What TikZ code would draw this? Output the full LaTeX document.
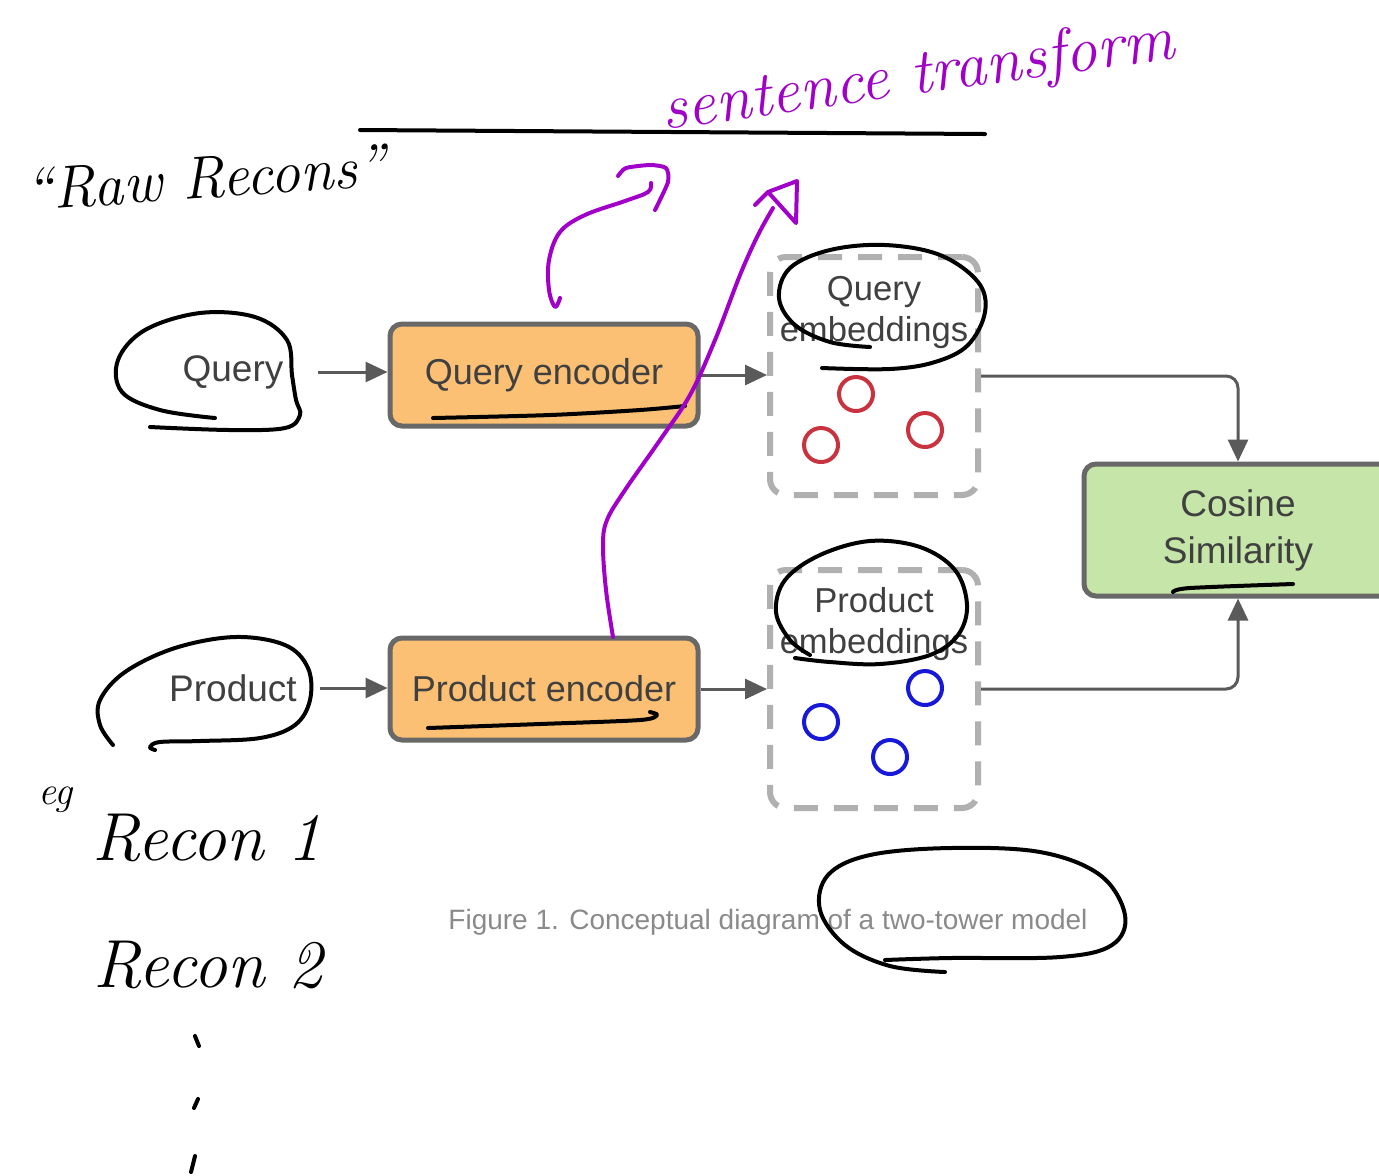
\documentclass[tikz,border=0pt]{standalone}
\usepackage{fontspec}
\newfontfamily\diagfont{Liberation Sans}
\usetikzlibrary{arrows.meta}
\definecolor{encfill}{HTML}{FCC074}
\definecolor{simfill}{HTML}{C6E5A8}
\definecolor{boxline}{HTML}{686868}
\definecolor{txtgray}{HTML}{404040}
\definecolor{dashgray}{HTML}{B0B0B0}
\definecolor{arrowgray}{HTML}{5A5A5A}
\definecolor{capgray}{HTML}{8A8A8A}
\definecolor{embred}{HTML}{C8333F}
\definecolor{embblue}{HTML}{1818D8}
\definecolor{penpurple}{HTML}{A000C8}
\begin{document}
\begin{tikzpicture}[x=0.5pt,y=-0.5pt,
  boxnode/.style={draw=boxline, line width=2.5pt, rounded corners=6pt,
    minimum width=154pt, minimum height=51pt, text=txtgray,
    font=\diagfont\fontsize{18}{22}\selectfont},
  embbox/.style={draw=dashgray, line width=3pt, dash pattern=on 12pt off 8pt,
    rounded corners=8pt, minimum width=104pt, minimum height=119pt},
  label/.style={text=txtgray, font=\diagfont\fontsize{18.5}{22}\selectfont},
  emblabel/.style={text=txtgray, align=center,
    font=\diagfont\fontsize{17.3}{20.5}\selectfont},
  flow/.style={draw=arrowgray, line width=1.5pt,
    -{Triangle[length=11pt,width=10pt]}},
  dot/.style={line width=2pt, minimum size=17pt, circle, draw, inner sep=0pt},
  ink/.style={line width=2pt, line cap=round, line join=round},
  pen/.style={ink, draw=penpurple},
  hand/.style={font=\itshape\fontsize{30}{34}\selectfont}]
\clip (0,0) rectangle (1379,1175);
\fill[white] (0,0) rectangle (1379,1175);

% ---------- two-tower diagram ----------
\node[label] (qtext) at (233,372) {Query};
\node[label] (ptext) at (233,688) {Product};
\node[boxnode, fill=encfill] (qenc) at (544,375) {Query encoder};
\node[boxnode, fill=encfill] (penc) at (544,689) {Product encoder};
\node[embbox] (qemb) at (874,376) {};
\node[embbox] (pemb) at (874,689) {};
\node[emblabel] (qembt) at (874,312) {Query\\embeddings};
\node[emblabel] (pembt) at (874,624) {Product\\embeddings};
\node[boxnode, fill=simfill, align=center, font=\diagfont\fontsize{18.5}{23.5}\selectfont]
  (cos) at (1238,530) [minimum height=66pt] {Cosine\\Similarity};

% embedding points
\node[dot, draw=embred] (q1) at (856,394) {};
\node[dot, draw=embred] (q2) at (821,445) {};
\node[dot, draw=embred] (q3) at (925,430) {};
\node[dot, draw=embblue] (p1) at (925,688) {};
\node[dot, draw=embblue] (p2) at (821,722) {};
\node[dot, draw=embblue] (p3) at (890,757) {};

% connectors
\draw[flow] ([xshift=14pt]qtext.east) -- (qtext.east -| qenc.west);
\draw[flow] ([xshift=8pt]ptext.east) -- (ptext.east -| penc.west);
\draw[flow] (qenc.east) -- (qenc.east -| qemb.west);
\draw[flow] (penc.east) -- (penc.east -| pemb.west);
\draw[flow, rounded corners=6pt] (qemb.east) -| (cos.north);
\draw[flow, rounded corners=6pt] (pemb.east) -| (cos.south);

\node[text=capgray, font=\diagfont\fontsize{14}{16}\selectfont] (cap) at (768,922)
  {Figure 1. Conceptual diagram of a two-tower model};

% ---------- pen annotations ----------
\draw[ink] (360,130) -- (985,134);
\node[hand, rotate=4] (raw) at (205,178) {“Raw Recons”};
\node[hand, font=\itshape\fontsize{20}{24}\selectfont] (eg) at (55,800) {eg};
\node[hand, font=\itshape\fontsize{34}{38}\selectfont] (r1) at (207,838) {Recon 1};
\node[hand, font=\itshape\fontsize{34}{38}\selectfont] (r2) at (208,965) {Recon 2};
\draw[ink] (199,1046) -- (195,1036);
\draw[ink] (194,1108) -- (198,1099);
\draw[ink] (191,1172) -- (195,1156);

% loops round the labels
\draw[ink] plot[smooth, tension=0.6] coordinates {(215,418) (160,410) (122,392)
  (118,360) (145,330) (200,313) (255,317) (287,340) (292,375) (296,400) (300,415)
  (285,428) (230,430) (150,427)};
\draw[ink] plot[smooth, tension=0.6] coordinates {(113,745) (100,725) (100,700)
  (125,672) (175,648) (235,637) (285,645) (308,668) (310,700) (295,725) (260,738)
  (200,741) (160,742) (150,747) (155,750)};
\draw[ink] plot[smooth, tension=0.6] coordinates {(870,347) (830,342) (795,325)
  (779,298) (790,268) (830,250) (885,245) (940,255) (978,282) (985,312) (968,345)
  (935,362) (890,369) (822,368)};
\draw[ink] plot[smooth, tension=0.6] coordinates {(810,655) (790,640) (776,612)
  (785,580) (820,555) (870,541) (920,547) (955,570) (967,605) (958,635) (930,655)
  (880,664) (830,662) (795,658)};
\draw[ink] plot[smooth, tension=0.6] coordinates {(945,972) (890,966) (845,945)
  (820,910) (828,875) (870,855) (950,848) (1040,852) (1100,875) (1125,915)
  (1112,945) (1060,957) (950,958) (885,960)};

% underlines
\draw[ink] plot[smooth] coordinates {(433,418) (550,415) (640,410) (685,406)};
\draw[ink] plot[smooth] coordinates {(428,728) (540,724) (640,720) (657,715) (650,712)};
\draw[ink] plot[smooth] coordinates {(1173,592) (1190,588) (1293,584)};

% purple notes
\node[text=penpurple, font=\itshape\fontsize{32}{36}\selectfont, rotate=8]
  (st) at (918,78) {sentence transform};
\draw[pen] plot[smooth, tension=0.6] coordinates {(560,298) (555,307) (549,290)
  (549,260) (560,232) (585,215) (625,201) (648,192) (651,183)};
\draw[pen] plot[smooth, tension=0.4] coordinates {(618,176) (626,168) (650,165)
  (666,168) (668,182) (655,210)};
\draw[pen] plot[smooth, tension=0.6] coordinates {(613,637) (606,590) (603,545)
  (607,520) (625,490) (660,440) (690,395) (715,340) (740,275) (758,235) (773,208)};
\draw[pen] (755,205) -- (768,192) -- (797,181) -- (796,223) -- (768,192);
\end{tikzpicture}
\end{document}
